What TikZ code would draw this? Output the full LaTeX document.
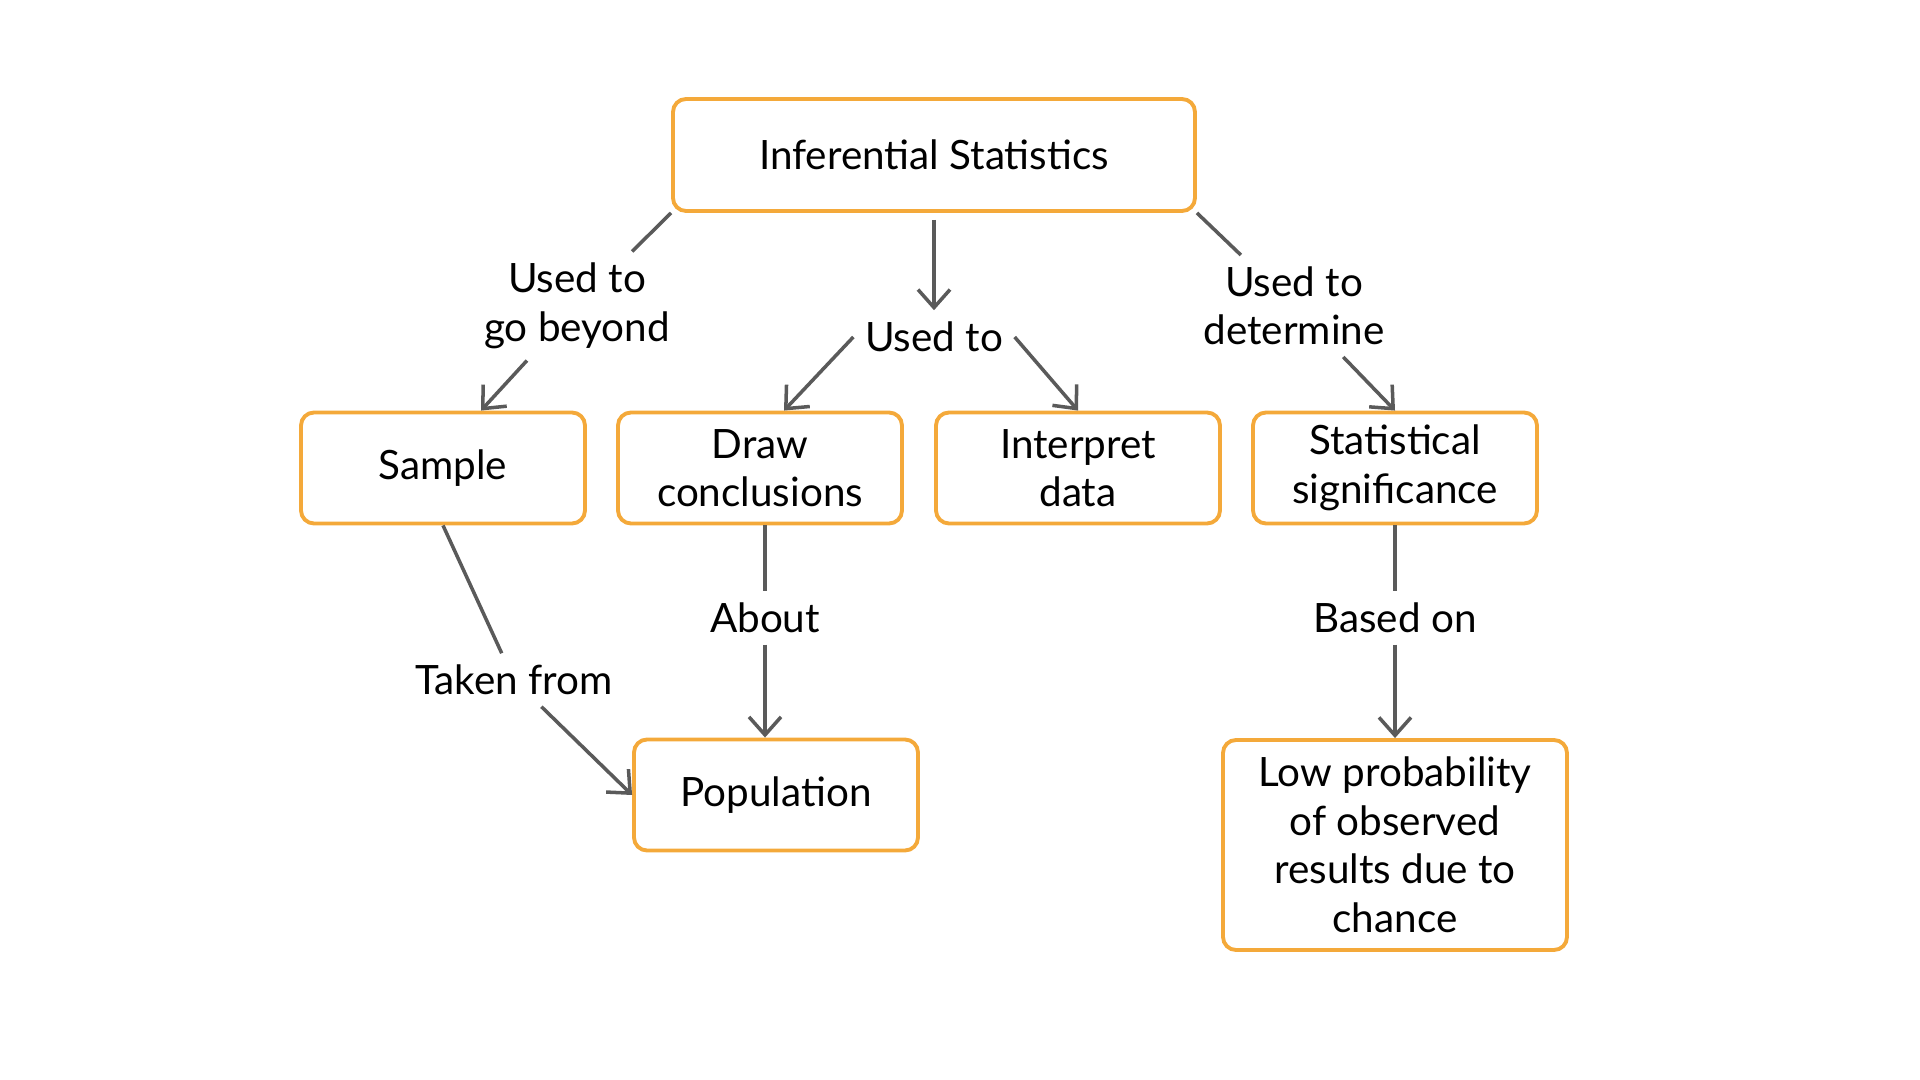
\documentclass[tikz,border=0pt]{standalone}
\usepackage{fontspec}
\setmainfont{Lato}
\usetikzlibrary{arrows.meta}
\definecolor{boxorange}{HTML}{F4A93A}
\definecolor{linegray}{HTML}{5A5A5A}
\tikzset{
    box/.style={draw=boxorange, line width=1.1pt, rounded corners=0.13cm, rectangle, align=center,
        minimum width=2.84cm, minimum height=1.11cm, font=\fontsize{11.5}{13.8}\selectfont},
    lbl/.style={align=center, inner sep=0.11cm, font=\fontsize{11.5}{13.8}\selectfont},
    conn/.style={draw=linegray, line width=1pt},
    arr/.style={conn, -{Straight Barb[length=1.8mm, width=3.2mm]}}
}
\begin{document}
\begin{tikzpicture}[node distance=1cm]
        \useasboundingbox (0,0) rectangle (19.2,10.8);
        % Nodes
        \node (inf) [box, minimum width=5.22cm, minimum height=1.12cm] at (9.34,9.25) {Inferential Statistics};
        \node (usedto) [lbl, below of=inf, node distance=1.82cm] {Used to};
        \node (draw) [box, below of=inf, node distance=3.13cm, xshift=-1.74cm] {Draw\\conclusions};
        \node (sample) [box, left of=draw, node distance=3.17cm] {Sample};
        \node (interp) [box, right of=draw, node distance=3.18cm] {Interpret\\data};
        \node (stat) [box, right of=interp, node distance=3.17cm] {Statistical\\significance};
        \node (gobeyond) [lbl, above of=sample, node distance=1.62cm, xshift=1.34cm] {Used to\\go beyond};
        \node (determine) [lbl, above of=stat, node distance=1.62cm, xshift=-1.01cm] {Used to\\determine};
        \node (taken) [lbl, below of=sample, node distance=2.12cm, xshift=0.71cm] {Taken from};
        \node (about) [lbl, below of=draw, node distance=1.5cm, xshift=0.05cm] {About};
        \node (pop) [box, below of=draw, node distance=3.27cm, xshift=0.16cm] {Population};
        \node (based) [lbl, below of=stat, node distance=1.5cm] {Based on};
        \node (low) [box, below of=stat, node distance=3.77cm, minimum width=3.44cm, minimum height=2.10cm] {Low probability\\of observed\\results due to\\chance};

        % Edges
        \draw[conn] (inf.south west) -- (gobeyond);
        \draw[arr] (gobeyond) -- ([xshift=0.38cm]sample.north);
        \draw[arr, shorten <=0.07cm] (inf.south) -- (usedto);
        \draw[arr] (usedto.west) -- ([xshift=0.24cm]draw.north);
        \draw[arr] (usedto.east) -- (interp.north);
        \draw[conn] (inf.south east) -- (determine);
        \draw[arr] (determine) -- (stat.north);
        \draw[conn] (sample.south) -- (taken);
        \draw[arr] (taken) -- (pop.west);
        \draw[conn] (about |- draw.south) -- (about);
        \draw[arr] (about) -- (about |- pop.north);
        \draw[conn] (stat) -- (based);
        \draw[arr] (based) -- (low);
    \end{tikzpicture}
\end{document}
